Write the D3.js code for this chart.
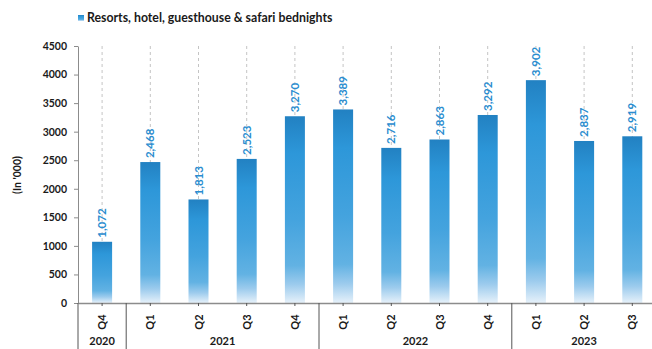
<!DOCTYPE html>
<html><head><meta charset="utf-8">
<script src="https://cdn.jsdelivr.net/npm/d3@7"></script>
<style>body{margin:0;background:#fff}svg{display:block}text{font-family:Lato,"Open Sans",sans-serif;font-weight:bold}</style>
</head><body>
<svg id="c" width="652" height="349"></svg>
<script>
const quarters = ["Q4","Q1","Q2","Q3","Q4","Q1","Q2","Q3","Q4","Q1","Q2","Q3"];
const years = ["2020","2021","2021","2021","2021","2022","2022","2022","2022","2023","2023","2023"];
const bednights = [1072,2468,1813,2523,3270,3389,2716,2863,3292,3902,2837,2919];
const yTicks = [0,500,1000,1500,2000,2500,3000,3500,4000,4500];
const seriesName = "Resorts, hotel, guesthouse & safari bednights";
const yTitle = "(In '000)";

const svg = d3.select("#c");
const pL = 78, pT = 46, pB = 303, pR = 656.4;
const keys = quarters.map((q,i)=>i);
const x = d3.scaleBand().domain(keys).range([pL,pR]).paddingInner(0.585).paddingOuter(0.2925);
const y = d3.scaleLinear().domain([0,4500]).range([pB,pT]);
const step = x.step();

const defs = svg.append("defs");
const g = defs.append("linearGradient").attr("id","bg").attr("x1",0).attr("y1",0).attr("x2",0).attr("y2",1);
[[0,"#2281c2"],[0.2,"#2d97d9"],[0.55,"#44a3de"],[0.8,"#62b2e3"],[0.9,"#9ccbed"],[1,"#e6f1fa"]].forEach(([o,c])=>g.append("stop").attr("offset",o).attr("stop-color",c));

// legend
svg.append("rect").attr("x",78).attr("y",15).attr("width",6).attr("height",6).attr("fill","url(#bg)");
svg.append("text").attr("x",87).attr("y",22).attr("font-size",12.3).attr("fill","#1a1a1a").text(seriesName);

// gridlines
svg.append("g").selectAll("line").data(keys).join("line")
  .attr("x1",d=>x(d)+x.bandwidth()/2).attr("x2",d=>x(d)+x.bandwidth()/2)
  .attr("y1",pT).attr("y2",pB)
  .attr("stroke","#c4c4c4").attr("stroke-dasharray","3,3");

// bars
svg.append("g").selectAll("rect").data(keys).join("rect")
  .attr("x",d=>x(d)).attr("width",x.bandwidth())
  .attr("y",d=>y(bednights[d])).attr("height",d=>pB-y(bednights[d]))
  .attr("fill","url(#bg)");

// labels
const fmt = d3.format(",");
svg.append("g").selectAll("text").data(keys).join("text")
  .attr("transform",d=>`translate(${x(d)+x.bandwidth()/2+4},${y(bednights[d])-4}) rotate(-90)`)
  .attr("font-size",11.5).attr("fill","#2a8dd0").text(d=>fmt(bednights[d]));

// y axis
const ya = svg.append("g").attr("transform",`translate(${pL},0)`)
  .call(d3.axisLeft(y).tickValues(yTicks).tickSize(4).tickSizeOuter(0).tickFormat(d3.format("d")));
ya.select(".domain").attr("stroke","#8c8c8c");
ya.selectAll(".tick line").attr("stroke","#8c8c8c");
ya.selectAll(".tick text").attr("font-size",10.5).attr("fill","#1a1a1a").attr("x",-11).style("font-family","Lato, sans-serif").style("font-weight","bold");

svg.append("text").attr("transform","translate(21,175) rotate(-90)").attr("text-anchor","middle")
  .attr("font-size",10.5).attr("fill","#1a1a1a").text(yTitle);

// x axis
const xa = svg.append("g").attr("transform",`translate(0,${pB})`)
  .call(d3.axisBottom(x).tickSize(3).tickSizeOuter(0).tickFormat(""));
xa.select(".domain").attr("stroke","#8c8c8c").attr("stroke-width",1.3);
xa.selectAll(".tick line").attr("stroke","#555");

svg.append("g").selectAll("text").data(keys).join("text")
  .attr("transform",d=>`translate(${x(d)+x.bandwidth()/2+4},${322}) rotate(-90)`)
  .attr("text-anchor","middle").attr("font-size",11).attr("fill","#1a1a1a").text(d=>quarters[d]);

// year groups
const groups = [];
keys.forEach(i=>{
  const last = groups[groups.length-1];
  if(last && last.year===years[i]) last.end=i; else groups.push({year:years[i],start:i,end:i});
});
const gx0 = gr=>x(gr.start)-x.paddingInner()*step/2;
const gx1 = gr=>x(gr.end)+x.bandwidth()+x.paddingInner()*step/2;
svg.append("g").selectAll("line").data(groups).join("line")
  .attr("x1",gx0).attr("x2",gx0).attr("y1",pB).attr("y2",349)
  .attr("stroke","#555").attr("stroke-width",1);
svg.append("g").selectAll("text").data(groups).join("text")
  .attr("x",d=>(gx0(d)+gx1(d))/2).attr("y",345).attr("text-anchor","middle")
  .attr("font-size",11).attr("fill","#1a1a1a").text(d=>d.year);
</script>
</body></html>
